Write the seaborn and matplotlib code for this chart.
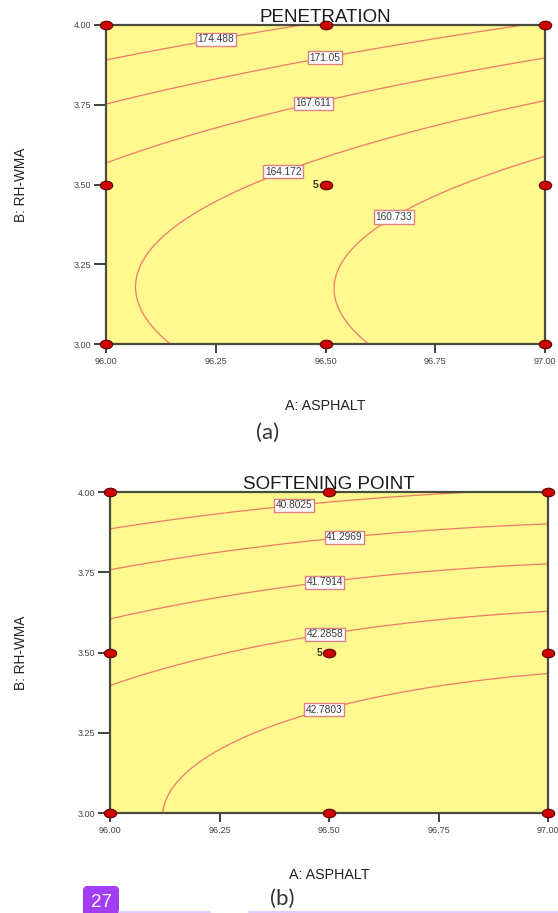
import matplotlib
matplotlib.use("Agg")
import matplotlib.pyplot as plt
from matplotlib.lines import Line2D
from matplotlib.markers import MarkerStyle
from matplotlib.patches import FancyBboxPatch
from matplotlib.transforms import Affine2D
import numpy as np
import seaborn as sns

# factor ranges and ticks
asphalt_ticks = [96.00, 96.25, 96.50, 96.75, 97.00]
asphalt_tick_labels = ["96.00", "96.25", "96.50", "96.75", "97.00"]
rhwma_ticks = [3.00, 3.25, 3.50, 3.75, 4.00]
rhwma_tick_labels = ["3.00", "3.25", "3.50", "3.75", "4.00"]

# design points (3x3 face-centred design, centre run repeated 5 times)
design_asphalt = [96.0, 96.5, 97.0, 96.0, 96.5, 97.0, 96.0, 96.5, 97.0]
design_rhwma = [3.0, 3.0, 3.0, 3.5, 3.5, 3.5, 4.0, 4.0, 4.0]
centre_runs = "5"

# quadratic models in coded units: b0, A, B, AB, A^2, B^2
pen_coef = [162.9405, -3.6217, 6.3228, 0.1184, 0.1259, 4.8448]
soft_coef = [42.4344, 0.28372, -1.19626, -0.00533, -0.08520, -0.58170]

pen_levels = [160.733, 164.172, 167.611, 171.05, 174.488]
pen_level_text = ["160.733", "164.172", "167.611", "171.05", "174.488"]
pen_label_pos = [(96.651, 3.408), (96.40, 3.552), (96.47, 3.768), (96.5, 3.885), (96.249, 3.967)]

soft_levels = [40.8025, 41.2969, 41.7914, 42.2858, 42.7803]
soft_level_text = ["40.8025", "41.2969", "41.7914", "42.2858", "42.7803"]
soft_label_pos = [(96.42, 3.965), (96.535, 3.862), (96.49, 3.72), (96.49, 3.561), (96.49, 3.318)]

FILL = "#FFF98F"
LINE = "#F07A6A"
SPINE = "#4b4b3f"

sns.set_theme(style="white")
plt.rcParams["font.family"] = ["Liberation Sans", "DejaVu Sans"]


def surface(coef):
    a = np.linspace(96.0, 97.0, 241)
    b = np.linspace(3.0, 4.0, 241)
    aa, bb = np.meshgrid(a, b)
    x = (aa - 96.5) / 0.5
    y = (bb - 3.5) / 0.5
    z = coef[0] + coef[1] * x + coef[2] * y + coef[3] * x * y + coef[4] * x * x + coef[5] * y * y
    return aa, bb, z


def draw_panel(ax, coef, levels, level_text, label_pos, title, ylab_x):
    ax.set_facecolor(FILL)
    aa, bb, z = surface(coef)
    cs = ax.contour(aa, bb, z, levels=levels, colors=LINE, linewidths=0.9)
    labels = ax.clabel(cs, levels, manual=label_pos, inline=False,
                       fmt=dict(zip(levels, level_text)), fontsize=7.3)
    for t in labels:
        t.set_rotation(0)
        t.set_color("#3a3a3a")
        t.set_bbox(dict(boxstyle="square,pad=0.15", fc="white", ec="#E08080", lw=1.0))

    sns.scatterplot(x=design_asphalt, y=design_rhwma, ax=ax,
                    marker=MarkerStyle("o", transform=Affine2D().scale(1.45, 1.0)),
                    s=38, color="#D00000", edgecolor="#5a0000", linewidth=0.8,
                    clip_on=False, zorder=6, legend=False)
    ax.text(96.485, 3.5, centre_runs, ha="right", va="center", fontsize=7.5,
            color="#2f3a1f", fontweight="bold")

    ax.set_xlim(96.0, 97.0)
    ax.set_ylim(3.0, 4.0)
    ax.set_xticks(asphalt_ticks)
    ax.set_xticklabels(asphalt_tick_labels)
    ax.set_yticks(rhwma_ticks)
    ax.set_yticklabels(rhwma_tick_labels)
    ax.tick_params(axis="x", direction="out", length=6.5, width=1.3, pad=3,
                   labelsize=6.5, color="#333333", labelcolor="#444444", bottom=True)
    ax.tick_params(axis="y", direction="out", length=8.6, width=1.3, pad=2,
                   labelsize=6.5, color="#333333", labelcolor="#444444", left=True)
    for s in ax.spines.values():
        s.set_color(SPINE)
        s.set_linewidth(1.6)

    ax.set_title(title, fontsize=13.5, pad=2, color="#1a1a1a")
    ax.set_xlabel("A: ASPHALT", fontsize=10.3, color="#222222", va="center")
    ax.xaxis.set_label_coords(0.5, -0.193)
    ax.set_ylabel("B: RH-WMA", fontsize=9.8, color="#222222", va="center")
    ax.yaxis.set_label_coords(ylab_x, 0.5)


fig = plt.figure(figsize=(5.58, 9.13), dpi=100)
ax_a = fig.add_axes([106 / 558, (913 - 344) / 913, 439 / 558, 319 / 913])
ax_b = fig.add_axes([110 / 558, (913 - 813) / 913, 438 / 558, 321 / 913])

draw_panel(ax_a, pen_coef, pen_levels, pen_level_text, pen_label_pos, "PENETRATION", -0.194)
draw_panel(ax_b, soft_coef, soft_levels, soft_level_text, soft_label_pos, "SOFTENING POINT", -0.203)

fig.text(268 / 558, 1 - 433 / 913, "(a)", fontsize=16, ha="center", va="center",
         color="#333333", family=["Lato", "DejaVu Sans"])
fig.text(282 / 558, 1 - 899 / 913, "(b)", fontsize=16, ha="center", va="center",
         color="#333333", family=["Lato", "DejaVu Sans"])

# page number badge and rule at the bottom
fig.add_artist(FancyBboxPatch((83 / 558, -6 / 913), 36 / 558, 33 / 913,
                              boxstyle="round,pad=0,rounding_size=0.008",
                              mutation_aspect=558 / 913, transform=fig.transFigure,
                              fc="#A23CF5", ec="none"))
fig.text(101 / 558, 1 - 902 / 913, "27", fontsize=13.5, ha="center", va="center", color="white")
fig.add_artist(Line2D([119 / 558, 210 / 558], [1 / 913, 1 / 913], color="#E2CCFF", lw=1.5))
fig.add_artist(Line2D([249 / 558, 1.0], [1 / 913, 1 / 913], color="#E2CCFF", lw=1.5))

fig.savefig("out.png", dpi=100)
plt.close(fig)
